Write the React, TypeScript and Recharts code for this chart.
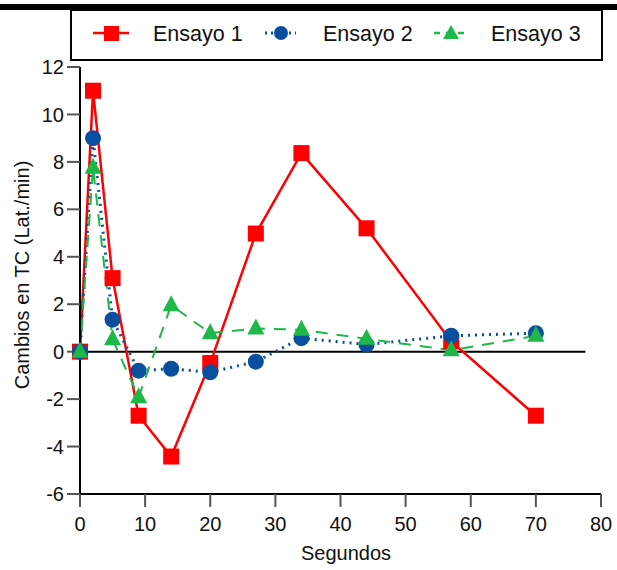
import { LineChart, Line, XAxis, YAxis, ReferenceLine } from 'recharts'

const segundos = [0, 2, 5, 9, 14, 20, 27, 34, 44, 57, 70]
const ensayo1 = [0, 11, 3.1, -2.7, -4.42, -0.48, 4.98, 8.37, 5.2, 0.43, -2.7]
const ensayo2 = [0, 9, 1.35, -0.8, -0.72, -0.87, -0.42, 0.57, 0.3, 0.67, 0.78]
const ensayo3 = [0, 7.75, 0.52, -1.92, 1.96, 0.78, 0.98, 0.92, 0.54, 0.06, 0.67]

const xTicks = [0, 10, 20, 30, 40, 50, 60, 70, 80]
const yTicks = [-6, -4, -2, 0, 2, 4, 6, 8, 10, 12]

const data = segundos.map((s, i) => ({
  s,
  e1: ensayo1[i],
  e2: ensayo2[i],
  e3: ensayo3[i],
}))

const RED = '#ff0000'
const BLUE = '#0a4f9e'
const GREEN = '#1db847'
const FONT = '"Liberation Sans", Arial, sans-serif'

const SquareDot = (p: any) => (
  <rect key={`sq-${p.index}`} x={p.cx - 8} y={p.cy - 8} width={16} height={16} fill={RED} />
)
const CircleDot = (p: any) => (
  <circle key={`ci-${p.index}`} cx={p.cx} cy={p.cy} r={8} fill={BLUE} />
)
const TriangleDot = (p: any) => (
  <polygon
    key={`tr-${p.index}`}
    points={`${p.cx},${p.cy - 10} ${p.cx - 8.5},${p.cy + 6} ${p.cx + 8.5},${p.cy + 6}`}
    fill={GREEN}
  />
)

function LegendBox() {
  const text = { fontFamily: FONT, fontSize: 21.5, fill: '#111' }
  return (
    <svg
      width={617}
      height={70}
      style={{ position: 'absolute', left: 0, top: 0, pointerEvents: 'none' }}
    >
      <rect x={0} y={4} width={617} height={6} fill="#000" />
      <rect x={71} y={10} width={531} height={50} fill="#fff" stroke="#000" strokeWidth={2} />
      {/* Ensayo 1 */}
      <line x1={93} y1={33} x2={129} y2={33} stroke={RED} strokeWidth={2.5} />
      <rect x={104} y={26} width={15} height={15} fill={RED} />
      <text x={153} y={41} {...text}>Ensayo 1</text>
      {/* Ensayo 2 */}
      <line x1={265} y1={33} x2={296} y2={33} stroke={BLUE} strokeWidth={3} strokeDasharray="2 4" />
      <circle cx={281} cy={33} r={7} fill={BLUE} />
      <text x={323} y={41} {...text}>Ensayo 2</text>
      {/* Ensayo 3 */}
      <line x1={434} y1={33} x2={468} y2={33} stroke={GREEN} strokeWidth={2.5} strokeDasharray="6 6" />
      <polygon points="451,25 443,39 459,39" fill={GREEN} />
      <text x={491} y={41} {...text}>Ensayo 3</text>
    </svg>
  )
}

export default function App() {
  const tickStyle = { fontFamily: FONT, fontSize: 20, fill: '#111' }
  return (
    <div style={{ position: 'absolute', left: 0, top: 0, width: 617, height: 570, background: '#fff' }}>
      <LineChart
        width={617}
        height={570}
        data={data}
        margin={{ top: 67, right: 16, bottom: 10, left: 0 }}
      >
        <XAxis
          dataKey="s"
          type="number"
          domain={[0, 80]}
          ticks={xTicks}
          height={66}
          tickSize={13}
          tickMargin={10}
          axisLine={{ stroke: '#000', strokeWidth: 2 }}
          tickLine={{ stroke: '#555', strokeWidth: 2 }}
          tick={tickStyle}
          label={{
            content: () => (
              <text x={346} y={560} textAnchor="middle" fontFamily={FONT} fontSize={20} fill="#111">
                Segundos
              </text>
            ),
          }}
        />
        <YAxis
          type="number"
          domain={[-6, 12]}
          ticks={yTicks}
          width={80}
          tickSize={13}
          tickMargin={3}
          axisLine={{ stroke: '#000', strokeWidth: 2 }}
          tickLine={{ stroke: '#555', strokeWidth: 2 }}
          tick={tickStyle}
          label={{
            content: () => (
              <text
                x={22}
                y={275}
                transform="rotate(-90 22 275)"
                textAnchor="middle"
                dominantBaseline="central"
                fontFamily={FONT}
                fontSize={20}
                fill="#111"
              >
                Cambios en TC (Lat./min)
              </text>
            ),
          }}
        />
        <ReferenceLine
          segment={[{ x: 0, y: 0 }, { x: 77.6, y: 0 }]}
          stroke="#000"
          strokeWidth={2}
        />
        <Line
          dataKey="e1"
          stroke={RED}
          strokeWidth={2.5}
          dot={SquareDot}
          activeDot={false}
          isAnimationActive={false}
        />
        <Line
          dataKey="e2"
          stroke={BLUE}
          strokeWidth={3}
          strokeDasharray="2 5"
          dot={CircleDot}
          activeDot={false}
          isAnimationActive={false}
        />
        <Line
          dataKey="e3"
          stroke={GREEN}
          strokeWidth={2}
          strokeDasharray="12 9"
          dot={TriangleDot}
          activeDot={false}
          isAnimationActive={false}
        />
      </LineChart>
      <LegendBox />
    </div>
  )
}
